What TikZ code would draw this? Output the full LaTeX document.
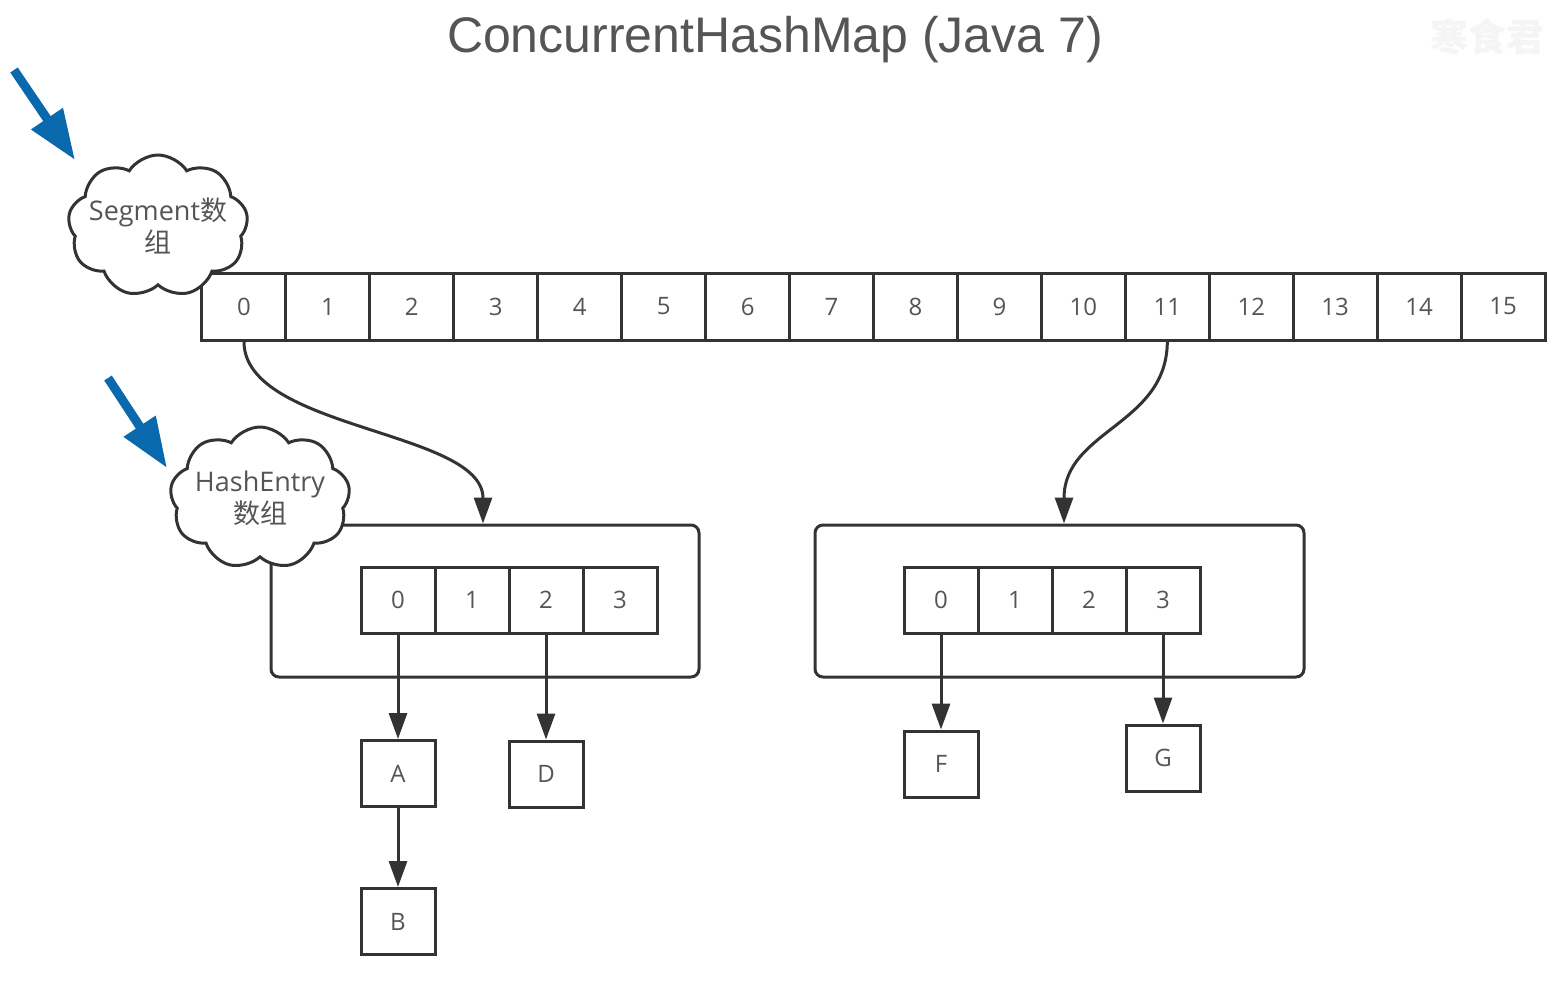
\documentclass[tikz,border=0pt]{standalone}
\usepackage{fontspec}
\setmainfont{Open Sans}
\newfontfamily\titlefont{Liberation Sans}
\newfontfamily\cjk{Noto Sans CJK SC}
\usetikzlibrary{shapes.symbols,arrows.meta}
\definecolor{lc}{HTML}{333333}
\definecolor{tc}{HTML}{555555}
\definecolor{bc}{HTML}{0A68AD}
\begin{document}
\begin{tikzpicture}[x=1pt,y=-1pt,
  cell/.style={draw=lc, line width=3pt, minimum width=84pt, minimum height=67pt, inner sep=0pt,
    font=\fontsize{24}{24}\selectfont, text=tc},
  icell/.style={cell, minimum width=74pt, minimum height=66pt},
  box/.style={draw=lc, line width=3pt, rounded corners=8pt, inner sep=0pt},
  cloudnode/.style={cloud, cloud puffs=9, cloud puff arc=115, cloud ignores aspect, draw=lc, line width=3pt, fill=white,
    minimum width=180pt, minimum height=142pt, inner sep=0pt},
  cloudtext/.style={align=center, text=tc, inner sep=0pt, font=\fontsize{27}{32}\selectfont},
  ptr/.style={draw=lc, line width=3pt, -{Triangle[length=26pt,width=18pt]}},
  bluearrow/.style={draw=bc, line width=9pt, -{Triangle[length=50pt,width=36pt]}}
]
\useasboundingbox (0,0) rectangle (1560,986);
\fill[white] (0,0) rectangle (1560,986);

% title and watermark
\node[font=\titlefont\fontsize{50}{54}\selectfont, text=tc] (title) at (775,40) {ConcurrentHashMap (Java 7)};
\node[font=\cjk\bfseries\fontsize{38}{40}\selectfont, text=gray!8] (wm) at (1487,37) {寒食君};

% segment array
\foreach \i in {0,...,15} {
  \node[cell] (s\i) at ({202+83.94*(\i+0.5)},306.5) {\i};
}

% containers
\node[box, minimum width=428pt, minimum height=152pt] (c1) at (485,601) {};
\node[box, minimum width=489pt, minimum height=152pt] (c2) at (1059.5,601) {};

% inner arrays
\foreach \i in {0,...,3} {
  \node[icell] (e\i) at ({398+74*\i},600) {\i};
  \node[icell] (f\i) at ({941+74*\i},600) {\i};
}

% entries
\node[icell] (A) at (398,773.5) {A};
\node[icell] (B) at (398,921.5) {B};
\node[icell] (D) at (546,774) {D};
\node[icell] (F) at (941,764) {F};
\node[icell] (G) at (1163,758) {G};

% clouds
\node[cloudnode] (cl1) at (158,226) {};
\node[cloudtext] (cl1t) at (cl1.center) {Segment{\cjk 数}\\{\cjk 组}};
\node[cloudnode] (cl2) at (260,498) {};
\node[cloudtext] (cl2t) at (cl2.center) {HashEntry\\{\cjk 数组}};

% pointers
\draw[ptr] (s0.south) .. controls (244,430) and (483,430) .. ([xshift=-2pt]c1.north);
\draw[ptr] (s11.south) .. controls (1167,425) and (1064,430) .. ([xshift=4.5pt]c2.north);
\draw[ptr] (e0.south) -- (A.north);
\draw[ptr] (e2.south) -- (D.north);
\draw[ptr] (A.south) -- (B.north);
\draw[ptr] (f0.south) -- (F.north);
\draw[ptr] (f3.south) -- (G.north);

% blue arrows
\coordinate (b1s) at (14,70);
\coordinate (b1e) at (75,160);
\coordinate (b2s) at (108,378);
\coordinate (b2e) at (167,468);
\draw[bluearrow] (b1s) -- (b1e);
\draw[bluearrow] (b2s) -- (b2e);
\end{tikzpicture}
\end{document}
